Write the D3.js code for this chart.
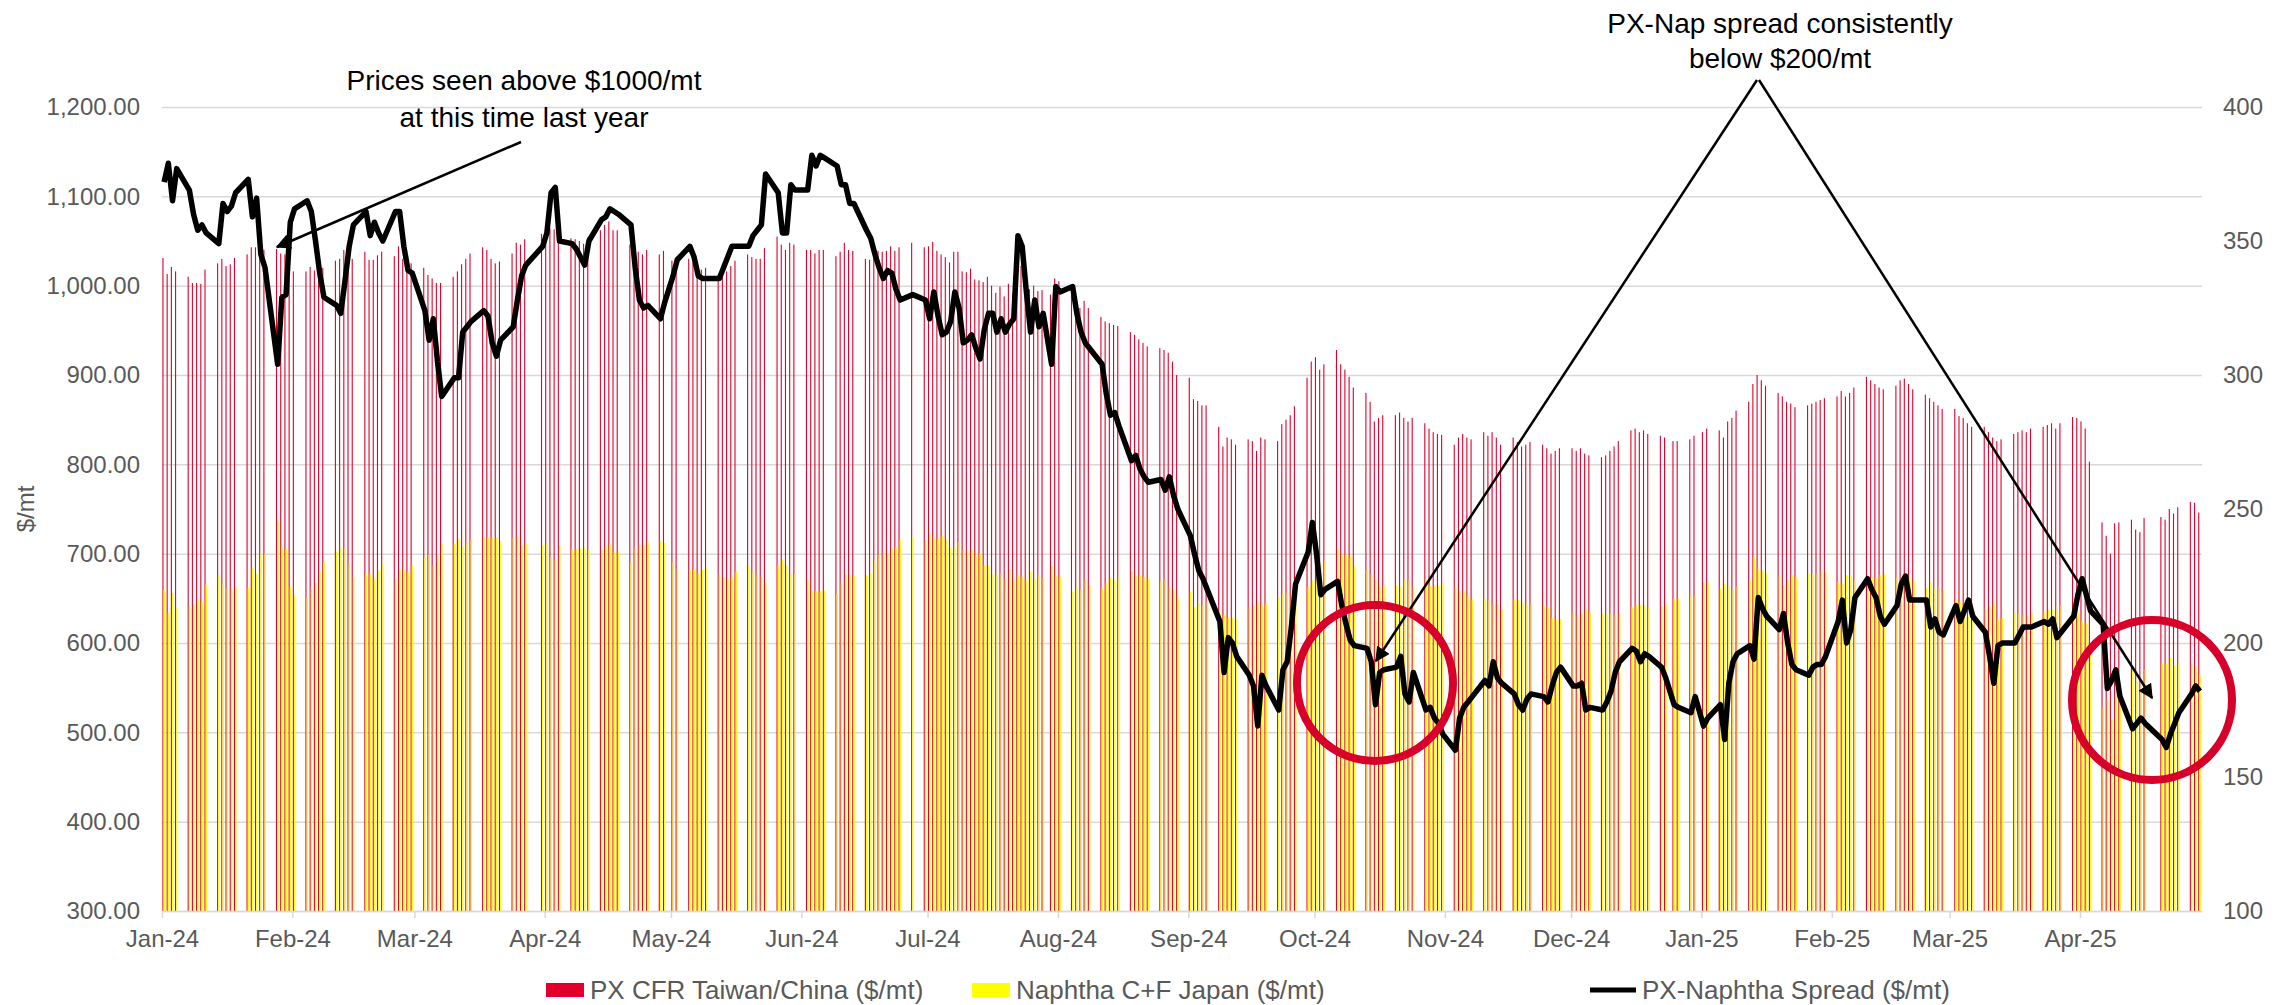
<!DOCTYPE html>
<html>
<head>
<meta charset="utf-8">
<script src="https://cdn.jsdelivr.net/npm/d3@7"></script>
<style>
  body { margin: 0; background: #fff; }
  svg { font-family: "Liberation Sans", Arial, sans-serif; }
</style>
</head>
<body>
<svg id="chart" width="2290" height="1005"></svg>
<script>
// ---- data ----
var months = ["2024-01","2024-02","2024-03","2024-04","2024-05","2024-06","2024-07","2024-08",
              "2024-09","2024-10","2024-11","2024-12","2025-01","2025-02","2025-03","2025-04"];

// days of month with an assessment
var tradingDays = [
  [2,3,4,5,8,9,10,11,12,15,16,17,18,19,22,23,24,25,26,29,30,31],
  [1,2,5,6,7,8,9,12,13,14,15,16,19,20,21,22,23,26,27,28,29],
  [1,4,5,6,7,8,11,12,13,14,15,18,19,20,21,22,25,26,27,28],
  [1,2,3,4,5,8,9,10,11,12,15,16,17,18,19,22,23,24,25,26,29,30],
  [2,3,6,7,8,9,10,13,14,15,16,17,20,21,22,23,24,27,28,29,30,31],
  [3,4,5,6,7,10,11,12,13,14,17,18,19,20,21,22,23,24,25,28],
  [1,2,3,4,5,6,7,8,9,10,11,12,13,14,15,16,17,18,19,20,21,22,23,24,25,26,27,28,29,31],
  [1,2,5,6,7,8,9,12,13,14,15,16,19,20,21,22,23,26,27,28,29,30],
  [2,3,4,5,6,9,10,11,12,13,16,17,18,19,20,23,24,25,26,27,30],
  [1,2,3,4,7,8,9,10,11,14,15,16,17,18,21,22,23,24,25,28,29,30,31],
  [1,4,5,6,7,8,11,12,13,14,15,18,19,20,21,22,25,26,27,28,29],
  [2,3,4,5,6,9,10,11,12,13,16,17,18,19,20,23,24,26,27,30,31],
  [2,3,6,7,8,9,10,13,14,15,16,17,20,21,22,23,24,27,28,29,30,31],
  [3,4,5,6,7,10,11,12,13,14,17,18,19,20,21,24,25,26,27,28],
  [3,4,5,6,7,10,11,12,13,14,17,18,19,20,21,24,25,26,27,28,31],
  [1,2,3,4,7,8,9,10,11,14,15,16,17,21,22,23,24,25,28,29,30]
];

var pxValues = [
  1031,1013,1021,1016,1010,1003,1003,1002,1018,1025,1030,1022,1024,1031,1035,1043,1043,1045,1040,1041,1036,1035,
  1020,1016,1016,1021,1017,1018,1020,1028,1030,1040,1036,1030,1038,1029,1029,1034,1038,1033,1044,1030,1018,
  1025,1020,1012,1008,1003,1003,1010,1016,1024,1030,1036,1043,1040,1030,1025,1027,1036,1048,1046,1052,
  1058,1064,1064,1063,1059,1053,1052,1050,1047,1054,1062,1068,1072,1062,1062,1046,1046,1038,1035,1040,1035,1039,
  1028,1026,1030,1026,1015,1018,1020,1012,1014,1016,1022,1028,1035,1032,1030,1030,1042,1055,1046,1040,1048,1046,
  1040,1040,1036,1040,1040,1033,1038,1048,1040,1039,1030,1029,1037,1039,1038,1039,1044,1039,1043,1048,
  1043,1044,1049,1039,1035,1032,1026,1038,1038,1016,1015,1019,1007,1006,1004,1010,1000,992,999,988,1002,991,1028,1022,1001,996,1000,994,995,990,
  1008,1005,990,986,975,983,975,965,960,958,956,955,948,945,940,936,932,930,928,925,915,900,
  897,873,871,866,866,842,820,830,828,822,828,826,815,830,828,826,845,850,855,865,897,
  915,920,906,912,928,912,906,898,886,880,870,848,852,855,855,858,852,848,852,846,840,836,834,
  833,822,830,834,830,828,836,832,836,830,822,830,825,820,822,825,822,818,812,815,818,
  818,815,818,812,810,808,810,815,820,826,838,840,836,838,834,832,830,826,826,828,832,
  836,840,838,830,848,852,860,870,890,900,894,888,880,876,870,868,864,866,868,870,872,874,
  876,882,876,880,886,898,894,890,886,884,888,894,896,890,884,878,874,870,866,862,
  862,854,852,846,842,842,836,830,826,828,834,836,838,836,840,842,844,846,840,846,853,
  852,848,840,803,735,720,700,734,735,738,727,724,740,741,738,750,745,752,758,757,746
];

var naphthaValues = [
  659,634,656,639,641,643,649,646,665,676,666,661,661,663,662,684,677,700,700,737,707,705,
  663,654,651,660,667,680,691,702,707,705,688,674,677,677,672,681,688,672,683,682,679,
  687,696,699,687,698,711,711,717,708,712,716,719,718,718,718,714,718,720,709,711,
  710,711,696,693,709,704,705,706,706,704,704,709,710,701,702,690,706,710,710,714,714,712,
  691,683,682,682,678,682,684,676,674,672,674,680,687,680,676,674,667,687,693,687,677,677,
  671,658,658,658,659,655,667,677,676,675,676,678,692,699,702,700,706,707,715,718,
  715,723,718,717,720,716,706,707,713,704,702,704,697,700,687,687,677,676,678,672,683,670,676,674,670,680,672,676,672,686,
  675,674,657,663,659,671,665,661,667,673,670,674,680,675,675,674,672,669,671,663,660,650,
  657,640,644,642,646,634,631,628,628,627,640,642,646,642,644,651,655,657,649,643,663,
  670,687,688,692,705,698,699,697,687,682,677,671,663,665,664,663,671,670,663,671,664,664,664,
  667,662,658,658,652,648,650,648,643,643,637,649,648,645,643,644,642,640,628,626,627,
  634,631,633,637,634,633,632,633,631,633,640,643,643,642,639,641,643,649,650,654,652,
  667,668,661,666,663,659,664,671,696,683,681,678,675,665,670,676,674,678,677,678,680,679,
  668,666,676,675,669,674,674,673,676,677,674,672,671,674,668,662,668,661,662,659,
  648,646,640,630,632,638,641,645,627,628,634,633,632,630,634,634,637,637,638,642,643,
  634,624,622,591,528,537,514,544,555,570,557,552,570,577,577,584,575,578,577,573,564
];

var spreadValues = [
  372,379,365,377,369,360,354,356,353,349,364,361,363,368,373,359,366,345,340,304,329,330,
  357,362,365,361,350,338,329,326,323,335,348,356,361,352,357,353,350,361,361,348,339,
  338,324,313,321,305,292,299,299,316,318,320,324,322,312,307,313,318,328,337,341,
  348,353,368,370,350,349,347,344,341,350,358,359,362,361,360,356,340,328,325,326,321,327,
  337,343,348,344,337,336,336,336,340,344,348,348,348,352,354,356,375,368,353,353,371,369,
  369,382,378,382,381,378,371,371,364,364,354,351,345,340,336,339,338,332,328,330,
  328,321,331,322,315,316,320,331,325,312,313,315,310,306,317,323,323,316,321,316,319,321,352,348,331,316,328,318,323,304,
  333,331,333,323,316,312,310,304,293,285,286,281,268,270,265,262,260,261,257,262,255,250,
  240,233,227,224,220,208,189,202,200,195,188,184,169,188,184,175,190,193,206,222,234,
  245,233,218,220,223,214,207,201,199,198,193,177,189,190,191,195,181,178,189,175,176,172,170,
  166,160,172,176,178,180,186,184,193,187,185,181,177,175,179,181,180,178,184,189,191,
  184,184,185,175,176,175,178,182,189,193,198,197,193,196,195,191,187,177,176,174,180,
  169,172,177,164,185,193,196,199,194,217,213,210,205,211,200,192,190,188,191,192,192,195,
  208,216,200,205,217,224,220,217,210,207,214,222,225,216,216,216,206,209,204,203,
  214,208,212,216,210,204,195,185,199,200,200,203,206,206,206,208,207,209,202,204,210,
  218,224,218,212,207,183,186,190,180,168,170,172,170,164,161,166,170,174,181,184,182
];

var leftTicks = [300,400,500,600,700,800,900,1000,1100,1200];
var rightTicks = [100,150,200,250,300,350,400];
var seriesNames = ["PX CFR Taiwan/China ($/mt)", "Naphtha C+F Japan ($/mt)", "PX-Naphtha Spread ($/mt)"];

// ---- build rows ----
var parseDay = d3.timeParse("%Y-%m-%d");
var rows = [];
months.forEach(function(m, i) {
  tradingDays[i].forEach(function(day) {
    rows.push({ date: parseDay(m + "-" + (day < 10 ? "0" + day : day)) });
  });
});
rows.forEach(function(r, i) {
  r.px = pxValues[i];
  r.naphtha = naphthaValues[i];
  r.spread = spreadValues[i];
});

// ---- layout ----
var margin = {top: 107, right: 88, bottom: 94, left: 162},
    width = 2290 - margin.left - margin.right,
    height = 1005 - margin.top - margin.bottom;

var svg = d3.select("#chart");
var g = svg.append("g")
  .attr("transform", "translate(" + margin.left + "," + margin.top + ")");

var x = d3.scaleTime()
  .domain([parseDay("2024-01-02"), parseDay("2025-05-01")])
  .range([0, width]);
var yLeft = d3.scaleLinear().domain([300, 1200]).range([height, 0]);
var yRight = d3.scaleLinear().domain([100, 400]).range([height, 0]);

var dayW = x(parseDay("2024-01-03")) - x(parseDay("2024-01-02"));

// gridlines
g.append("g")
  .attr("class", "grid")
  .call(d3.axisLeft(yLeft).tickValues(leftTicks).tickSize(-width).tickFormat(""))
  .call(function(s) { s.select(".domain").remove(); })
  .selectAll("line")
  .attr("stroke", "#d9d9d9")
  .attr("stroke-width", 1.5);

// bars
var bars = g.append("g");
bars.selectAll(".px")
  .data(rows)
  .enter().append("rect")
  .attr("class", "px")
  .attr("fill", "#e0002b")
  .attr("x", function(d) { return x(d.date) + 0.4; })
  .attr("width", 1.1)
  .attr("y", function(d) { return yLeft(d.px); })
  .attr("height", function(d) { return height - yLeft(d.px); });

bars.selectAll(".naph")
  .data(rows)
  .enter().append("rect")
  .attr("class", "naph")
  .attr("fill", "#ffff00")
  .attr("x", function(d) { return x(d.date) + 1.6; })
  .attr("width", 1.4)
  .attr("y", function(d) { return yLeft(d.naphtha); })
  .attr("height", function(d) { return height - yLeft(d.naphtha); });

// x axis
var monthTicks = d3.range(16).map(function(i) { return new Date(2024, i, 2); });
var xAxis = g.append("g")
  .attr("transform", "translate(0," + height + ")")
  .call(d3.axisBottom(x).tickValues(monthTicks).tickSize(7).tickSizeOuter(0)
        .tickPadding(12).tickFormat(d3.timeFormat("%b-%y")));
xAxis.select(".domain").attr("stroke", "#d9d9d9").attr("stroke-width", 1.5);
xAxis.selectAll("line").attr("stroke", "#d9d9d9").attr("stroke-width", 1.5);
xAxis.selectAll("text").attr("fill", "#595959").style("font-size", "24px");

// left axis
var yAxisL = g.append("g")
  .call(d3.axisLeft(yLeft).tickValues(leftTicks).tickSize(0).tickPadding(22)
        .tickFormat(d3.format(",.2f")));
yAxisL.select(".domain").remove();
yAxisL.selectAll("text").attr("fill", "#595959").style("font-size", "24px");

// right axis
var yAxisR = g.append("g")
  .attr("transform", "translate(" + width + ",0)")
  .call(d3.axisRight(yRight).tickValues(rightTicks).tickSize(0).tickPadding(21));
yAxisR.select(".domain").remove();
yAxisR.selectAll("text").attr("fill", "#595959").style("font-size", "24px");

// axis title
svg.append("text")
  .attr("transform", "translate(34,509) rotate(-90)")
  .attr("text-anchor", "middle")
  .attr("fill", "#595959")
  .style("font-size", "24px")
  .text("$/mt");

// spread line
var line = d3.line()
  .x(function(d) { return x(d.date) + dayW / 2; })
  .y(function(d) { return yRight(d.spread); });

g.append("path")
  .datum(rows)
  .attr("fill", "none")
  .attr("stroke", "#000")
  .attr("stroke-width", 5.5)
  .attr("stroke-linejoin", "round")
  .attr("d", line);

// ---- annotations ----
var defs = svg.append("defs");
defs.append("marker")
  .attr("id", "arrow")
  .attr("viewBox", "0 0 10 10")
  .attr("refX", 9).attr("refY", 5)
  .attr("markerWidth", 6).attr("markerHeight", 6)
  .attr("markerUnits", "strokeWidth")
  .attr("orient", "auto")
  .append("path")
  .attr("d", "M0,0 L10,5 L0,10 z")
  .attr("fill", "#000");

var notes = svg.append("g");
[[521, 142, 277, 247], [1757, 80, 1376, 661], [1759, 80, 2152, 698]].forEach(function(a) {
  notes.append("line")
    .attr("x1", a[0]).attr("y1", a[1]).attr("x2", a[2]).attr("y2", a[3])
    .attr("stroke", "#000").attr("stroke-width", 2.5)
    .attr("marker-end", "url(#arrow)");
});

[[524, 90, "Prices seen above $1000/mt"], [524, 127, "at this time last year"],
 [1780, 33, "PX-Nap spread consistently"], [1780, 68, "below $200/mt"]].forEach(function(t) {
  notes.append("text")
    .attr("x", t[0]).attr("y", t[1])
    .attr("text-anchor", "middle")
    .attr("fill", "#000")
    .style("font-size", "28px")
    .text(t[2]);
});

[[1375, 683, 78], [2152, 700, 80]].forEach(function(c) {
  notes.append("circle")
    .attr("cx", c[0]).attr("cy", c[1]).attr("r", c[2])
    .attr("fill", "none")
    .attr("stroke", "#d6002b")
    .attr("stroke-width", 8);
});

// ---- legend ----
var legend = svg.append("g").style("font-size", "26px").attr("fill", "#595959");
legend.append("rect").attr("x", 546).attr("y", 983).attr("width", 38).attr("height", 14).attr("fill", "#e0002b");
legend.append("text").attr("x", 590).attr("y", 999).text(seriesNames[0]);
legend.append("rect").attr("x", 972).attr("y", 983).attr("width", 38).attr("height", 14).attr("fill", "#ffff00");
legend.append("text").attr("x", 1016).attr("y", 999).text(seriesNames[1]);
legend.append("line").attr("x1", 1590).attr("x2", 1636).attr("y1", 990).attr("y2", 990)
  .attr("stroke", "#000").attr("stroke-width", 5);
legend.append("text").attr("x", 1642).attr("y", 999).text(seriesNames[2]);
</script>
</body>
</html>
